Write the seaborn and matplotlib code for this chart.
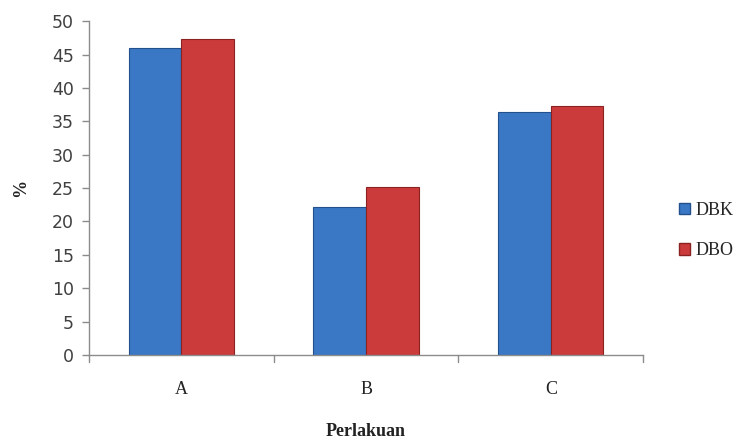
import matplotlib
matplotlib.use("Agg")
import matplotlib.pyplot as plt
from matplotlib.font_manager import FontProperties
from matplotlib.patches import Patch
import seaborn as sns
import pandas as pd

categories = ["A", "B", "C"]
dbk = [46.0, 22.2, 36.4]
dbo = [47.4, 25.1, 37.3]
series_names = ["DBK", "DBO"]
colors = {"DBK": "#3a78c6", "DBO": "#cc3b3b"}
edges = {"DBK": "#23508c", "DBO": "#8a2222"}

df = pd.DataFrame({
    "Perlakuan": categories * 2,
    "value": dbk + dbo,
    "series": [series_names[0]] * 3 + [series_names[1]] * 3,
})

sns.set_style("white")
fig = plt.figure(figsize=(7.41, 4.41), dpi=100)
ax = fig.add_axes([0.120, 0.195, 0.748, 0.757])

sns.barplot(data=df, x="Perlakuan", y="value", hue="series", order=categories,
            hue_order=series_names, palette=colors, width=0.57, ax=ax,
            saturation=1, legend=False)

for cont, name in zip(ax.containers, series_names):
    for bar in cont:
        bar.set_edgecolor(edges[name])
        bar.set_linewidth(0.8)

ax.set_xlim(-0.5, 2.5)
ax.set_ylim(0, 50)
ax.set_yticks(range(0, 51, 5))
ax.tick_params(axis="y", length=5, width=1, color="#8c8c8c", labelsize=12.5,
               labelcolor="#404040", pad=6, left=True, direction="out")
ax.set_xticks([0, 1, 2])
ax.set_xticklabels(categories, family="Liberation Serif", fontsize=13, color="#222222")
ax.tick_params(axis="x", length=0, pad=19)
# category boundary ticks
for xb in [-0.5, 0.5, 1.5, 2.5]:
    ax.plot([xb, xb], [0, -1.0], color="#8c8c8c", lw=1, clip_on=False)

for side in ["top", "right"]:
    ax.spines[side].set_visible(False)
for side in ["left", "bottom"]:
    ax.spines[side].set_color("#8c8c8c")
    ax.spines[side].set_linewidth(1)

ax.set_xlabel("Perlakuan", family="Liberation Serif", fontweight="bold",
              fontsize=13, color="#222222")
ax.xaxis.set_label_coords(0.5, -0.205)
ax.set_ylabel("%", family="Liberation Serif", fontweight="bold",
              fontsize=13, color="#222222", labelpad=16)

legend_font = FontProperties(family="Liberation Serif", size=13)
handles = [Patch(facecolor=colors[n], edgecolor=edges[n]) for n in series_names]
fig.legend(handles, series_names, loc="center left", bbox_to_anchor=(0.895, 0.477),
           frameon=False, prop=legend_font,
           handlelength=0.6, handleheight=0.6, handletextpad=0.3, labelspacing=1.3)

fig.savefig("out.png", dpi=100, facecolor="white")
